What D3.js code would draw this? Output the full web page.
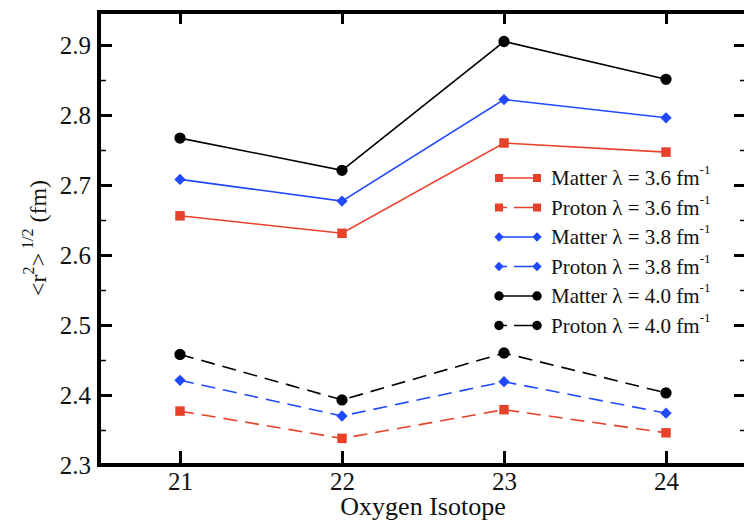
<!DOCTYPE html>
<html>
<head>
<meta charset="utf-8">
<script src="https://cdn.jsdelivr.net/npm/d3@7"></script>
<style>
    body { margin: 0; background: #FFFFFF; }
</style>
</head>
<body>
<div id="chart"></div>
<script>
// data
const isotopes = [21, 22, 23, 24];
const matter36 = [2.656, 2.631, 2.760, 2.747];
const proton36 = [2.377, 2.338, 2.379, 2.346];
const matter38 = [2.708, 2.677, 2.822, 2.796];
const proton38 = [2.421, 2.370, 2.419, 2.374];
const matter40 = [2.767, 2.721, 2.905, 2.851];
const proton40 = [2.458, 2.393, 2.460, 2.403];

const yMajorTicks = [2.3, 2.4, 2.5, 2.6, 2.7, 2.8, 2.9];
const yMinorTicks = [2.35, 2.45, 2.55, 2.65, 2.75, 2.85];

const seriesNames = [
    "Matter \u03bb = 3.6 fm", "Proton \u03bb = 3.6 fm",
    "Matter \u03bb = 3.8 fm", "Proton \u03bb = 3.8 fm",
    "Matter \u03bb = 4.0 fm", "Proton \u03bb = 4.0 fm"
];

const svgAttr = { width: 744, height: 520 };
const frame = { left: 99, right: 747, top: 12, bottom: 465 };

const colors = { red: "#E8412A", blue: "#1F48FF", black: "#000000" };
const serif = "Liberation Serif";
const textColor = "#111111";

const series = [
    { name: seriesNames[0], values: matter36, color: colors.red, shape: "square", dashed: false },
    { name: seriesNames[1], values: proton36, color: colors.red, shape: "square", dashed: true },
    { name: seriesNames[2], values: matter38, color: colors.blue, shape: "diamond", dashed: false },
    { name: seriesNames[3], values: proton38, color: colors.blue, shape: "diamond", dashed: true },
    { name: seriesNames[4], values: matter40, color: colors.black, shape: "circle", dashed: false },
    { name: seriesNames[5], values: proton40, color: colors.black, shape: "circle", dashed: true }
];

const svg = d3.select("#chart")
              .append("svg")
              .attr("width", svgAttr.width)
              .attr("height", svgAttr.height);

const x = d3.scaleLinear()
            .domain([20.5, 24.5])
            .range([frame.left, frame.right]);

// 70px per 0.1 fm, frame top sits just above 2.95
const y = d3.scaleLinear()
            .domain([2.3, 2.9])
            .range([frame.bottom, 45]);

// diamond = square turned by 45 degrees
function symbolPath(shape, size) {
    const type = shape === "circle" ? d3.symbolCircle : d3.symbolSquare;
    return d3.symbol().type(type).size(size)();
}
function symbolTransform(shape, px, py) {
    return "translate(" + px + "," + py + ")" + (shape === "diamond" ? " rotate(45)" : "");
}
const markerSize = { square: 90, diamond: 64, circle: 100 };
const legendMarkerSize = { square: 64, diamond: 44, circle: 70 };

// lines
const line = d3.line()
               .x((d, i) => x(isotopes[i]))
               .y(d => y(d));

series.forEach(s => {
    svg.append("path")
       .attr("d", line(s.values))
       .attr("fill", "none")
       .attr("stroke", s.color)
       .attr("stroke-width", 1.6)
       .attr("stroke-dasharray", s.dashed ? "14,8" : null);
});

// markers
series.forEach(s => {
    svg.append("g")
       .selectAll("path")
       .data(s.values)
       .join("path")
       .attr("transform", (d, i) => symbolTransform(s.shape, x(isotopes[i]), y(d)))
       .attr("d", symbolPath(s.shape, markerSize[s.shape]))
       .attr("fill", s.color);
});

// axes
const axisFont = "25px";

function cleanAxis(g, width) {
    g.attr("font-family", serif);
    g.select(".domain").remove();
    g.selectAll("line").attr("stroke", "#000").attr("stroke-width", width);
    g.selectAll("text")
     .attr("font-family", serif)
     .attr("font-size", axisFont)
     .attr("fill", textColor);
}

const leftAxis = svg.append("g")
   .attr("transform", "translate(" + frame.left + ",0)")
   .call(d3.axisLeft(y).tickValues(yMajorTicks).tickFormat(d3.format(".1f"))
           .tickSizeInner(-13).tickSizeOuter(0).tickPadding(8));
cleanAxis(leftAxis, 3);

const leftMinor = svg.append("g")
   .attr("transform", "translate(" + frame.left + ",0)")
   .call(d3.axisLeft(y).tickValues(yMinorTicks).tickFormat("").tickSizeInner(-7).tickSizeOuter(0));
cleanAxis(leftMinor, 1.5);

const rightAxis = svg.append("g")
   .attr("transform", "translate(" + frame.right + ",0)")
   .call(d3.axisRight(y).tickValues(yMajorTicks).tickFormat("").tickSizeInner(-13).tickSizeOuter(0));
cleanAxis(rightAxis, 3);

const rightMinor = svg.append("g")
   .attr("transform", "translate(" + frame.right + ",0)")
   .call(d3.axisRight(y).tickValues(yMinorTicks).tickFormat("").tickSizeInner(-7).tickSizeOuter(0));
cleanAxis(rightMinor, 1.5);

const bottomAxis = svg.append("g")
   .attr("transform", "translate(0," + frame.bottom + ")")
   .call(d3.axisBottom(x).tickValues(isotopes).tickFormat(d3.format("d"))
           .tickSizeInner(-14).tickSizeOuter(0).tickPadding(7));
cleanAxis(bottomAxis, 3);

const topAxis = svg.append("g")
   .attr("transform", "translate(0," + frame.top + ")")
   .call(d3.axisTop(x).tickValues(isotopes).tickFormat("").tickSizeInner(-12).tickSizeOuter(0));
cleanAxis(topAxis, 3);

// frame
svg.append("rect")
   .attr("x", frame.left)
   .attr("y", frame.top)
   .attr("width", frame.right - frame.left)
   .attr("height", frame.bottom - frame.top)
   .attr("fill", "none")
   .attr("stroke", "#000")
   .attr("stroke-width", 4);

// axis titles
svg.append("text")
   .attr("x", (frame.left + frame.right) / 2)
   .attr("y", 515)
   .attr("text-anchor", "middle")
   .attr("font-family", serif)
   .attr("font-size", "26px")
   .attr("fill", textColor)
   .text("Oxygen Isotope");

const yTitle = svg.append("text")
   .attr("transform", "translate(46,238) rotate(-90)")
   .attr("text-anchor", "middle")
   .attr("font-family", serif)
   .attr("font-size", "24px")
   .attr("fill", textColor);
yTitle.append("tspan").text("<r");
yTitle.append("tspan").attr("font-size", "16px").attr("dy", -12).text("2");
yTitle.append("tspan").attr("dy", 12).text(">");
yTitle.append("tspan").attr("font-size", "16px").attr("dy", -13).text(" 1/2");
yTitle.append("tspan").attr("dy", 13).text(" (fm)");

// legend
const legend = { x1: 499, x2: 537, textX: 551, y0: 178, step: 29.5 };

series.forEach((s, i) => {
    const ly = legend.y0 + i * legend.step;
    const g = svg.append("g");
    g.append("line")
     .attr("x1", legend.x1)
     .attr("x2", legend.x2)
     .attr("y1", ly)
     .attr("y2", ly)
     .attr("stroke", s.color)
     .attr("stroke-width", 1.6)
     .attr("stroke-dasharray", s.dashed ? "8,7,30" : null);
    [legend.x1, legend.x2].forEach(px => {
        g.append("path")
         .attr("transform", symbolTransform(s.shape, px, ly))
         .attr("d", symbolPath(s.shape, legendMarkerSize[s.shape]))
         .attr("fill", s.color);
    });
    const t = g.append("text")
     .attr("x", legend.textX)
     .attr("y", ly + 7)
     .attr("font-family", serif)
     .attr("font-size", "21px")
     .attr("fill", textColor);
    t.append("tspan").text(s.name);
    t.append("tspan").attr("font-size", "13px").attr("dy", -11).text("-1");
});
</script>
</body>
</html>
